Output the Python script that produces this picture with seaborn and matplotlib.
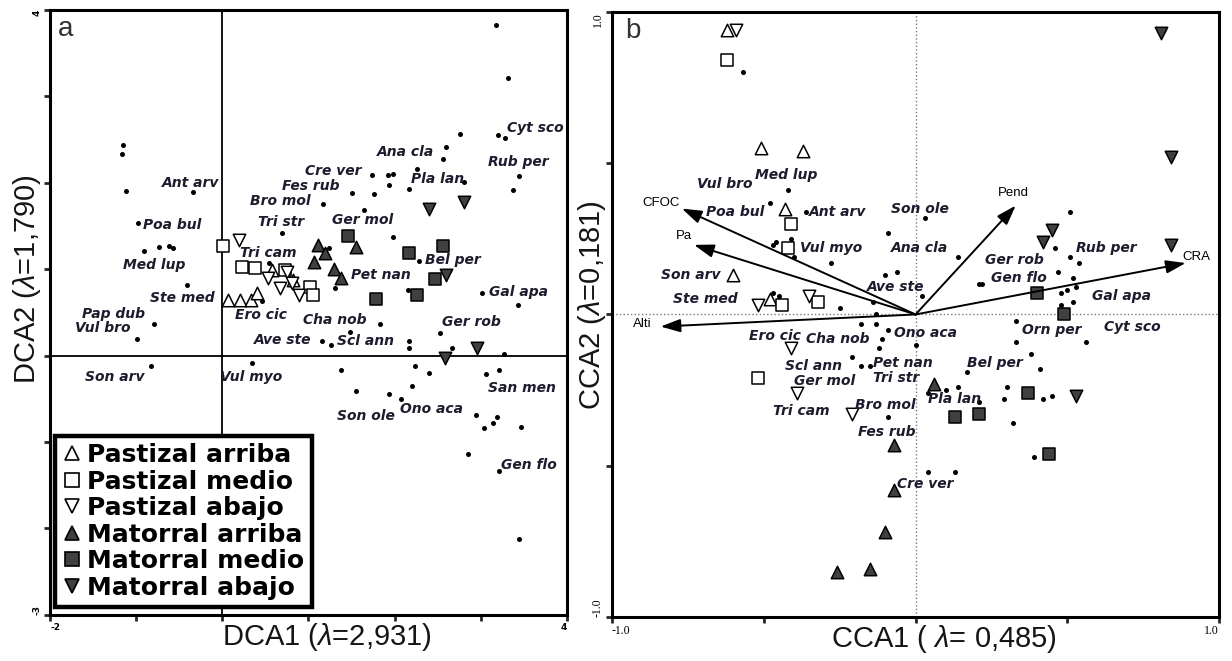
import numpy as np
import pandas as pd
import matplotlib
matplotlib.use('Agg')
import matplotlib.pyplot as plt
from matplotlib.lines import Line2D
import seaborn as sns

# ── DATA: panel a (DCA) ───────────────────────────────────
a_sp_x = [-1.15, -1.17, -1.12, -0.34, -0.98, -0.91, -0.73, -0.62, -0.57, -0.41,
          -0.79, -0.99, -0.83, 0.34, 1.16, 1.26, 1.48, 1.83, 2.17, 2.17,
          2.76, 3.20, 3.28, 2.60, 2.56, 2.26, 1.74, 1.92, 1.98, 1.93,
          2.17, 2.80, 1.50, 1.76, 1.17, 1.64, 0.69, 1.98, 1.24, 0.54,
          2.28, 1.31, 2.15, 3.01, 0.46, 2.53, 2.66, 1.38, 2.24, 2.40,
          2.20, 1.55, 1.94, 2.07, 3.06, 3.21, 3.18, 3.31, 3.44, 3.37,
          3.43, 3.27, 2.94, 3.04, 3.14, 3.19, 3.47, 2.85, 3.21, 3.44]
a_sp_y = [2.43, 2.33, 1.90, 1.89, 1.53, 1.21, 1.25, 1.27, 1.24, 0.81,
          0.37, 0.19, -0.12, -0.09, 0.17, 0.12, 0.27, 0.36, 0.17, 0.09,
          2.56, 2.55, 2.51, 2.41, 2.27, 2.16, 2.09, 2.09, 2.10, 1.97,
          1.92, 2.01, 1.88, 1.87, 1.75, 1.68, 1.42, 1.37, 1.24, 1.07,
          1.09, 0.78, 0.76, 0.72, 0.63, 0.26, 0.09, -0.17, -0.12, -0.20,
          -0.35, -0.41, -0.45, -0.50, -0.21, -0.17, 3.82, 3.21, 2.08, 1.91,
          0.58, 0.02, -0.69, -0.84, -0.78, -0.71, -0.83, -1.14, -1.34, -2.12]

a_lab_text = ['Ant arv', 'Poa bul', 'Med lup', 'Ste med', 'Pap dub', 'Vul bro', 'Son arv',
              'Ero cic', 'Vul myo', 'Tri cam', 'Tri str', 'Bro mol', 'Fes rub', 'Cre ver',
              'Ana cla', 'Pla lan', 'Cyt sco', 'Rub per', 'Ger mol', 'Pet nan', 'Bel per',
              'Gal apa', 'Cha nob', 'Ger rob', 'Ave ste', 'Scl ann', 'San men', 'Son ole',
              'Ono aca', 'Gen flo']
a_lab_x = [-0.70, -0.92, -1.15, -0.84, -1.63, -1.71, -1.59, 0.15, -0.03, 0.21, 0.41, 0.32,
           0.69, 0.96, 1.79, 2.19, 3.30, 3.08, 1.27, 1.49, 2.35, 3.09, 0.94, 2.55, 0.37,
           1.33, 3.08, 1.33, 2.06, 3.24]
a_lab_y = [1.99, 1.51, 1.05, 0.66, 0.48, 0.32, -0.25, 0.47, -0.25, 1.18, 1.54, 1.79,
           1.96, 2.13, 2.35, 2.04, 2.63, 2.24, 1.57, 0.93, 1.10, 0.73, 0.41, 0.39, 0.18,
           0.17, -0.38, -0.70, -0.62, -1.27]

a_past_arriba_x = [0.07, 0.21, 0.33, 0.40, 0.58, 0.82]
a_past_arriba_y = [0.64, 0.64, 0.64, 0.72, 0.99, 0.87]
a_past_medio_x = [0.01, 0.23, 0.38, 0.73, 1.02, 1.05]
a_past_medio_y = [1.27, 1.02, 1.01, 0.99, 0.79, 0.70]
a_past_abajo_x = [0.19, 0.53, 0.75, 0.81, 0.89, 0.67]
a_past_abajo_y = [1.34, 0.90, 0.97, 0.84, 0.70, 0.78]
a_mat_arriba_x = [1.11, 1.19, 1.06, 1.55, 1.30, 1.38]
a_mat_arriba_y = [1.28, 1.18, 1.08, 1.25, 1.00, 0.90]
a_mat_medio_x = [1.46, 2.17, 2.56, 2.47, 2.26, 1.78]
a_mat_medio_y = [1.38, 1.19, 1.27, 0.88, 0.70, 0.65]
a_mat_abajo_x = [2.40, 2.80, 2.60, 2.58, 2.96]
a_mat_abajo_y = [1.69, 1.77, 0.93, -0.03, 0.09]

# ── DATA: panel b (CCA) ───────────────────────────────────
b_sp_x = [-0.57, -0.42, -0.48, -0.36, -0.41, -0.46, -0.47, -0.40, -0.28, -0.09,
          0.03, -0.06, -0.10, -0.47, -0.45, -0.25, -0.14, -0.13, 0.02, 0.14,
          0.21, 0.22, 0.51, 0.46, 0.51, 0.54, 0.47, 0.52, 0.53, 0.50,
          0.48, 0.48, 0.52, 0.33, -0.18, -0.13, -0.09, -0.11, -0.12, 0.00,
          -0.21, -0.18, -0.15, 0.04, -0.09, 0.04, 0.13, 0.33, 0.38, 0.56,
          0.17, 0.41, 0.30, 0.29, 0.32, 0.10, 0.14, 0.21, 0.42, 0.45, 0.39]
b_sp_y = [0.80, 0.41, 0.37, 0.34, 0.25, 0.24, 0.23, 0.19, 0.17, 0.27,
          0.32, 0.14, 0.13, 0.07, 0.06, 0.02, 0.04, 0.00, 0.06, 0.19,
          0.10, 0.10, 0.34, 0.22, 0.19, 0.17, 0.14, 0.12, 0.09, 0.08,
          0.07, 0.03, 0.04, -0.02, -0.03, -0.03, -0.05, -0.08, -0.11, -0.10,
          -0.14, -0.17, -0.17, -0.26, -0.34, -0.52, -0.52, -0.09, -0.13, -0.09,
          -0.19, -0.18, -0.24, -0.28, -0.36, -0.25, -0.24, -0.29, -0.28, -0.27, -0.47]

b_lab_text = ['Med lup', 'Vul bro', 'Poa bul', 'Ant arv', 'Son ole', 'Vul myo', 'Ana cla',
              'Son arv', 'Ste med', 'Ave ste', 'Ero cic', 'Cha nob', 'Ono aca', 'Scl ann',
              'Pet nan', 'Ger mol', 'Tri str', 'Tri cam', 'Bro mol', 'Fes rub', 'Cre ver',
              'Pla lan', 'Bel per', 'Orn per', 'Cyt sco', 'Ger rob', 'Gen flo', 'Rub per',
              'Gal apa']
b_lab_x = [-0.53, -0.72, -0.69, -0.35, -0.08, -0.38, -0.08, -0.84, -0.80, -0.16, -0.55,
           -0.36, -0.07, -0.43, -0.14, -0.40, -0.14, -0.47, -0.20, -0.19, -0.06, 0.04,
           0.17, 0.35, 0.62, 0.23, 0.25, 0.53, 0.58]
b_lab_y = [0.46, 0.43, 0.34, 0.34, 0.35, 0.22, 0.22, 0.13, 0.05, 0.09, -0.07, -0.08,
           -0.06, -0.17, -0.16, -0.22, -0.21, -0.32, -0.30, -0.39, -0.56, -0.28, -0.16,
           -0.05, -0.04, 0.18, 0.12, 0.22, 0.06]

b_past_arriba_x = [-0.51, -0.37, -0.43, -0.60, -0.48, -0.62]
b_past_arriba_y = [0.55, 0.54, 0.35, 0.13, 0.05, 0.94]
b_past_medio_x = [-0.62, -0.41, -0.42, -0.44, -0.32, -0.52]
b_past_medio_y = [0.84, 0.30, 0.22, 0.03, 0.04, -0.21]
b_past_abajo_x = [-0.59, -0.52, -0.35, -0.41, -0.39, -0.21]
b_past_abajo_y = [0.94, 0.03, 0.06, -0.11, -0.26, -0.33]
b_mat_arriba_x = [-0.07, -0.07, -0.10, -0.15, -0.26, 0.06]
b_mat_arriba_y = [-0.43, -0.58, -0.72, -0.84, -0.85, -0.23]
b_mat_medio_x = [0.40, 0.49, 0.37, 0.21, 0.13, 0.44]
b_mat_medio_y = [0.07, 0.00, -0.26, -0.33, -0.34, -0.46]
b_mat_abajo_x = [0.81, 0.84, 0.84, 0.45, 0.42, 0.53]
b_mat_abajo_y = [0.93, 0.52, 0.23, 0.28, 0.24, -0.27]

env_names = ['CFOC', 'Pa', 'Alti', 'Pend', 'CRA']
env_x = [-0.77, -0.73, -0.84, 0.33, 0.89]
env_y = [0.35, 0.23, -0.04, 0.36, 0.17]
env_lab_x = [-0.90, -0.79, -0.93, 0.27, 0.88]
env_lab_y = [0.37, 0.26, -0.03, 0.40, 0.19]

GROUPS = ['Pastizal arriba', 'Pastizal medio', 'Pastizal abajo',
          'Matorral arriba', 'Matorral medio', 'Matorral abajo']
MARKERS = ['^', 's', 'v', '^', 's', 'v']
FACES = ['white', 'white', 'white', '#404040', '#404040', '#404040']

a_samples = [(a_past_arriba_x, a_past_arriba_y), (a_past_medio_x, a_past_medio_y),
             (a_past_abajo_x, a_past_abajo_y), (a_mat_arriba_x, a_mat_arriba_y),
             (a_mat_medio_x, a_mat_medio_y), (a_mat_abajo_x, a_mat_abajo_y)]
b_samples = [(b_past_arriba_x, b_past_arriba_y), (b_past_medio_x, b_past_medio_y),
             (b_past_abajo_x, b_past_abajo_y), (b_mat_arriba_x, b_mat_arriba_y),
             (b_mat_medio_x, b_mat_medio_y), (b_mat_abajo_x, b_mat_abajo_y)]

# ── STYLE ─────────────────────────────────────────────────
sns.set_style('white')
plt.rcParams['font.family'] = ['DejaVu Sans']
plt.rcParams['mathtext.fontset'] = 'custom'
plt.rcParams['mathtext.it'] = 'Liberation Sans:italic'
plt.rcParams['mathtext.rm'] = 'Liberation Sans'
TXT = '#1c1c2e'
AXFONT = ['Liberation Sans', 'DejaVu Sans']

fig = plt.figure(figsize=(12.32, 6.61), dpi=100)
ax_a = fig.add_axes([0.0406, 0.0696, 0.4196, 0.916])
ax_b = fig.add_axes([0.4968, 0.0666, 0.4927, 0.9153])


def draw_points(ax, sp_x, sp_y, samples):
    sns.scatterplot(x=sp_x, y=sp_y, ax=ax, color='black', s=13, linewidth=0, zorder=3)
    for (gx, gy), m, fc in zip(samples, MARKERS, FACES):
        sns.scatterplot(x=gx, y=gy, ax=ax, marker=m, s=80, color=fc,
                        edgecolor='black', linewidth=1.1, zorder=4)


def draw_labels(ax, texts, xs, ys):
    for t, x, y in zip(texts, xs, ys):
        ax.text(x, y, t, ha='left', va='center', fontsize=10, fontweight='bold',
                fontstyle='italic', color=TXT, zorder=6)


def end_ticks(ax, xt, xl, yt, yl, family, size, weight):
    ax.set_xticks(xt)
    ax.set_xticklabels(xl, family=family, fontsize=size, fontweight=weight)
    ax.set_yticks(yt)
    ax.set_yticklabels(yl, rotation=90, family=family, fontsize=size, fontweight=weight)
    ax.tick_params(bottom=True, left=True, direction='out', length=4, width=2, pad=2,
                   labelcolor='black')
    xlabs = ax.get_xticklabels()
    xlabs[0].set_ha('left')
    xlabs[-1].set_ha('right')
    ylabs = ax.get_yticklabels()
    ylabs[0].set_va('bottom')
    ylabs[-1].set_va('top')
    for sp in ax.spines.values():
        sp.set_linewidth(2.2)
        sp.set_color('black')


# ── PANEL a ───────────────────────────────────────────────
ax_a.axhline(0, color='black', lw=1.3, zorder=1)
ax_a.axvline(0, color='black', lw=1.3, zorder=1)
draw_points(ax_a, a_sp_x, a_sp_y, a_samples)
draw_labels(ax_a, a_lab_text, a_lab_x, a_lab_y)
ax_a.set_xlim(-2, 4)
ax_a.set_ylim(-3, 4)
end_ticks(ax_a, range(-2, 5), ['-2', '', '', '', '', '', '4'],
          range(-3, 5), ['-3', '', '', '', '', '', '', '4'], 'DejaVu Sans', 6.5, 'bold')
ax_a.set_xlabel('DCA1 ($\\lambda$=2,931)', fontsize=21, family=AXFONT, color='#151515')
ax_a.set_ylabel('DCA2 ($\\lambda$=1,790)', fontsize=21, family=AXFONT, color='#151515')
ax_a.xaxis.set_label_coords(0.535, -0.01)
ax_a.yaxis.set_label_coords(-0.014, 0.554)
ax_a.text(0.015, 0.99, 'a', transform=ax_a.transAxes, ha='left', va='top',
          fontsize=20, family=AXFONT, color='#333333')

handles = [Line2D([], [], marker=m, linestyle='none', markerfacecolor=fc,
                  markeredgecolor='black', markersize=10, markeredgewidth=1.2)
           for m, fc in zip(MARKERS, FACES)]
leg = ax_a.legend(handles, GROUPS, loc='lower left', bbox_to_anchor=(0.009, 0.013),
                  borderaxespad=0, frameon=True, fancybox=False, framealpha=1,
                  edgecolor='black', handlelength=0.8, handletextpad=0.2,
                  labelspacing=0.1, borderpad=0.3, labelcolor='black',
                  prop={'family': 'DejaVu Sans', 'weight': 'bold', 'size': 18})
leg.get_frame().set_linewidth(3.2)
leg.set_zorder(10)

# ── PANEL b ───────────────────────────────────────────────
ax_b.axhline(0, color='#777777', lw=1, ls=':', zorder=1)
ax_b.axvline(0, color='#777777', lw=1, ls=':', zorder=1)
draw_points(ax_b, b_sp_x, b_sp_y, b_samples)
for name, ex, ey, lx, ly in zip(env_names, env_x, env_y, env_lab_x, env_lab_y):
    ax_b.annotate('', xy=(ex, ey), xytext=(0, 0),
                  arrowprops=dict(arrowstyle='-|>,head_length=0.6,head_width=0.2',
                                  color='black', lw=1.4, mutation_scale=20,
                                  shrinkA=0, shrinkB=0), zorder=5)
    ax_b.text(lx, ly, name, ha='left', va='center', fontsize=9.5,
              family=AXFONT, color='black', zorder=6)
draw_labels(ax_b, b_lab_text, b_lab_x, b_lab_y)
ax_b.set_xlim(-1, 1)
ax_b.set_ylim(-1, 1)
end_ticks(ax_b, [-1, -0.5, 0, 0.5, 1], ['-1.0', '', '', '', '1.0'],
          [-1, -0.5, 0, 0.5, 1], ['-1.0', '', '', '', '1.0'], 'Liberation Serif', 8.5, 'normal')
ax_b.set_xlabel('CCA1 ( $\\lambda$= 0,485)', fontsize=21, family=AXFONT, color='#151515')
ax_b.set_ylabel('CCA2 ($\\lambda$=0,181)', fontsize=21, family=AXFONT, color='#151515')
ax_b.xaxis.set_label_coords(0.547, -0.01)
ax_b.yaxis.set_label_coords(-0.007, 0.516)
ax_b.text(0.021, 0.99, 'b', transform=ax_b.transAxes, ha='left', va='top',
          fontsize=20, family=AXFONT, color='#333333')

fig.savefig('out.png', dpi=100, facecolor='white')
